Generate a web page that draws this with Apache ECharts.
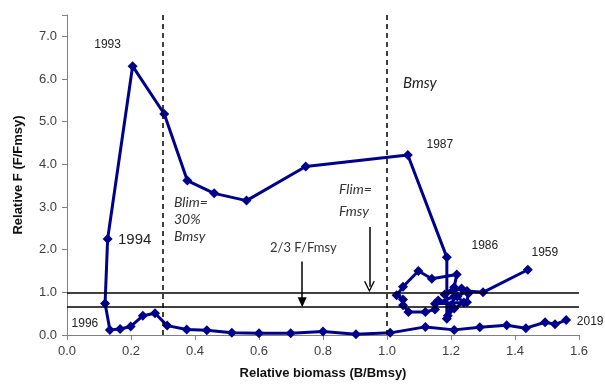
<!DOCTYPE html>
<html>
<head>
<meta charset="utf-8">
<script src="https://cdn.jsdelivr.net/npm/echarts@6/dist/echarts.min.js"></script>
<style>
  html, body { margin: 0; padding: 0; background: #fff; }
  #chart { width: 605px; height: 385px; }
</style>
</head>
<body>
<div id="chart"></div>
<script>
// stock trajectory, split into three runs of years
// 1959-1986
var earlyB = [1.44, 1.30, 1.25, 1.22, 1.24, 1.21, 1.19, 1.20, 1.16, 1.15, 1.12, 1.067, 1.05, 1.05,
  1.03, 1.05, 1.098, 1.14, 1.218, 1.21, 1.18, 1.233, 1.254, 1.25, 1.15, 1.21, 1.187, 1.187];
var earlyF = [1.53, 1.00, 1.03, 0.90, 0.76, 0.62, 0.45, 0.70, 0.81, 0.60, 0.54, 0.54, 0.70, 0.83,
  0.93, 1.13, 1.50, 1.32, 1.42, 1.12, 0.95, 1.09, 0.97, 0.77, 0.73, 0.90, 0.38, 1.82];
// 1987-1995
var collapseB = [1.065, 0.746, 0.561, 0.46, 0.376, 0.304, 0.205, 0.127, 0.119];
var collapseF = [4.22, 3.95, 3.15, 3.32, 3.62, 5.18, 6.3, 2.25, 0.74];
// 1996-2019
var recentB = [0.134, 0.166, 0.199, 0.237, 0.275, 0.313, 0.374, 0.437, 0.515, 0.60, 0.699,
  0.80, 0.903, 1.01, 1.12, 1.21, 1.29, 1.374, 1.434, 1.494, 1.525, 1.56];
var recentF = [0.12, 0.14, 0.20, 0.45, 0.51, 0.22, 0.13, 0.11, 0.05, 0.04, 0.04,
  0.08, 0.02, 0.05, 0.19, 0.12, 0.18, 0.23, 0.16, 0.30, 0.25, 0.35];

var xTicks = [0, 0.2, 0.4, 0.6, 0.8, 1.0, 1.2, 1.4, 1.6];
var bmsy = 1.0, blim = 0.3;
var fmsy = 1.0, fTwoThirds = 2 / 3;

var navy = '#00008b';
var font = 'Liberation Sans, Arial, sans-serif';

function pt(x, y, tag) {
  var item = { value: [x, y] };
  if (tag) {
    item.label = {
      show: true, position: 'inside', formatter: tag.text, offset: tag.offset,
      color: '#222', fontFamily: font, fontSize: tag.size || 12
    };
  }
  return item;
}

var data = [];
earlyB.forEach(function (b, i) {
  var tag = null;
  if (i === 0) tag = { text: '1959', offset: [17, -17] };
  if (i === earlyB.length - 1) tag = { text: '1986', offset: [38, -12] };
  data.push(pt(b, earlyF[i], tag));
});
collapseB.forEach(function (b, i) {
  var tag = null;
  if (i === 0) tag = { text: '1987', offset: [32, -10] };
  if (i === 6) tag = { text: '1993', offset: [-25, -22] };
  if (i === 7) tag = { text: '1994', offset: [27, 1], size: 15 };
  data.push(pt(b, collapseF[i], tag));
});
recentB.forEach(function (b, i) {
  var tag = null;
  if (i === 0) tag = { text: '1996', offset: [-25, -6] };
  if (i === recentB.length - 1) tag = { text: '2019', offset: [24, 2] };
  data.push(pt(b, recentF[i], tag));
});

var myChart = echarts.init(document.getElementById('chart'));

var dashed = { color: '#000', width: 1.5, type: [5, 4] };
var solid = { color: '#000', width: 1.5, type: 'solid' };
// open "V" arrow head, tip pointing up (markLine turns it along the line)
var openArrow = 'path://M5,0 L10,10 L8.6,10 L5,2.6 L1.4,10 L0,10 Z';

var option = {
  animation: false,
  backgroundColor: '#fff',
  grid: { left: 67, right: 26, top: 15, bottom: 50 },
  xAxis: {
    type: 'value',
    min: xTicks[0],
    max: xTicks[xTicks.length - 1],
    interval: 0.2,
    name: 'Relative biomass (B/Bmsy)',
    nameLocation: 'middle',
    nameGap: 32,
    nameTextStyle: { fontFamily: font, fontWeight: 'bold', fontSize: 13, color: '#111' },
    axisLine: { lineStyle: { color: '#808080', width: 1 } },
    axisTick: { lineStyle: { color: '#808080' }, length: 5 },
    axisLabel: { fontFamily: font, fontSize: 13, color: '#404040', margin: 10,
      formatter: function (v) { return v.toFixed(1); } },
    splitLine: { show: false }
  },
  yAxis: {
    type: 'value',
    min: 0,
    max: 7.5,
    interval: 1,
    name: 'Relative F (F/Fmsy)',
    nameLocation: 'middle',
    nameGap: 42,
    nameTextStyle: { fontFamily: font, fontWeight: 'bold', fontSize: 13, color: '#111' },
    axisLine: { show: true, lineStyle: { color: '#808080', width: 1 } },
    axisTick: { show: true, lineStyle: { color: '#808080' }, length: 5 },
    axisLabel: { fontFamily: font, fontSize: 13, color: '#404040', margin: 10,
      formatter: function (v) { return v % 1 === 0 ? v.toFixed(1) : ''; } },
    splitLine: { show: false }
  },
  graphic: [
    { type: 'text', left: 403, top: 76, style: { text: 'Bmsy', fontFamily: 'Lato', fontStyle: 'italic', fontSize: 15, fill: '#222' } },
    { type: 'text', left: 174, top: 194, style: { text: 'Blim=\n30%\nBmsy', fontFamily: 'Lato', fontStyle: 'italic', fontSize: 14, lineHeight: 17, fill: '#333' } },
    { type: 'text', left: 339, top: 178, style: { text: 'Flim=\nFmsy', fontFamily: 'Lato', fontStyle: 'italic', fontSize: 14, lineHeight: 22, fill: '#333' } },
    { type: 'text', left: 270, top: 241, style: { text: '2/3 F/Fmsy', fontFamily: 'Lato', fontSize: 13, fill: '#333' } }
  ],
  series: [
    {
      name: 'Relative F',
      type: 'line',
      data: data,
      clip: false,
      symbol: 'diamond',
      symbolSize: 10,
      lineStyle: { color: navy, width: 3 },
      itemStyle: { color: navy },
      z: 2,
      markLine: {
        silent: true,
        symbol: 'none',
        label: { show: false },
        z: 5,
        data: [
          { xAxis: blim, lineStyle: dashed },
          { xAxis: bmsy, lineStyle: dashed },
          { yAxis: fmsy, lineStyle: solid },
          { yAxis: fTwoThirds, lineStyle: solid },
          [
            { coord: [0.735, 1.72], symbol: 'none', lineStyle: solid },
            { coord: [0.735, 0.77], symbol: 'triangle', symbolSize: [9, 10], symbolRotate: 180 }
          ],
          [
            { coord: [0.945, 2.53], symbol: 'none', lineStyle: solid },
            { coord: [0.945, 1.13], symbol: openArrow, symbolSize: [11, 11], itemStyle: { color: '#000' } }
          ]
        ]
      }
    }
  ]
};

myChart.setOption(option);
</script>
</body>
</html>
